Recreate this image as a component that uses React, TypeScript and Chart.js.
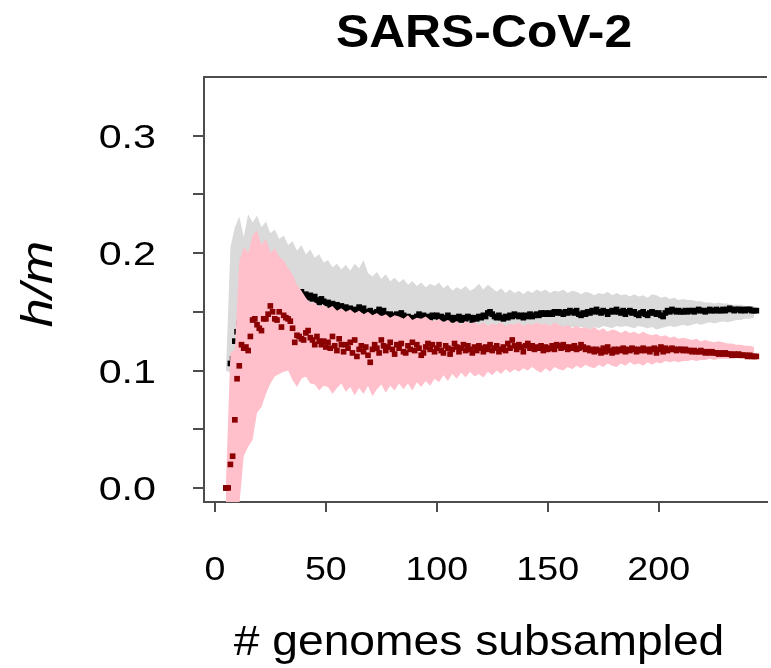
import React, { useEffect, useRef } from "react";
import { Chart, registerables } from "chart.js";

Chart.register(...registerables);

// ---------- data ----------
const titleText = "SARS-CoV-2";
const xAxisTitle = "# genomes subsampled";
const yAxisTitle = "h/m";

// subsample sizes of the mean points start at 5, one point per genome count
const pointStart = 5;
// mean h/m, human-adapted subsample (dark red)
const meanRed = [
  0.000, 0.000, 0.020, 0.027, 0.058, 0.093, 0.104, 0.122, 0.119, 0.120,
  0.117, 0.129, 0.143, 0.144, 0.139, 0.136, 0.134, 0.144, 0.144, 0.148,
  0.155, 0.150, 0.144, 0.143, 0.150, 0.137, 0.147, 0.145, 0.144, 0.142,
  0.136, 0.124, 0.130, 0.129, 0.127, 0.126, 0.132, 0.134, 0.128, 0.126,
  0.122, 0.129, 0.125, 0.122, 0.125, 0.120, 0.124, 0.119, 0.129, 0.121,
  0.117, 0.127, 0.122, 0.116, 0.122, 0.119, 0.124, 0.115, 0.126, 0.112,
  0.118, 0.121, 0.116, 0.120, 0.113, 0.107, 0.118, 0.122, 0.119, 0.115,
  0.126, 0.121, 0.117, 0.120, 0.124, 0.118, 0.114, 0.122, 0.119, 0.123,
  0.116, 0.115, 0.121, 0.118, 0.124, 0.117, 0.122, 0.119, 0.113, 0.115,
  0.120, 0.123, 0.118, 0.122, 0.116, 0.119, 0.122, 0.117, 0.115, 0.121,
  0.119, 0.114, 0.118, 0.123, 0.120, 0.116, 0.119, 0.122, 0.117, 0.121,
  0.118, 0.115, 0.120, 0.117, 0.121, 0.119, 0.116, 0.120, 0.118, 0.122,
  0.117, 0.119, 0.121, 0.116, 0.118, 0.120, 0.117, 0.123, 0.119, 0.126,
  0.121, 0.118, 0.122, 0.120, 0.116, 0.121, 0.123, 0.119, 0.121, 0.118,
  0.120, 0.119, 0.121, 0.117, 0.120, 0.118, 0.119, 0.121, 0.118, 0.122,
  0.121, 0.119, 0.122, 0.120, 0.118, 0.120, 0.119, 0.121, 0.118, 0.119,
  0.122, 0.120, 0.118, 0.119, 0.117, 0.118, 0.116, 0.118, 0.117, 0.115,
  0.119, 0.116, 0.120, 0.117, 0.115, 0.118, 0.116, 0.118, 0.117, 0.119,
  0.116, 0.118, 0.117, 0.119, 0.118, 0.116, 0.118, 0.117, 0.119, 0.117,
  0.118, 0.116, 0.118, 0.119, 0.115, 0.118, 0.120, 0.116, 0.119, 0.117,
  0.118, 0.119, 0.118, 0.117, 0.118, 0.118, 0.117, 0.118, 0.117, 0.117,
  0.116, 0.117, 0.116, 0.116, 0.117, 0.116, 0.115, 0.116, 0.115, 0.116,
  0.115, 0.115, 0.114, 0.115, 0.114, 0.115, 0.114, 0.114, 0.113, 0.114,
  0.113, 0.114, 0.113, 0.113, 0.113, 0.112, 0.113, 0.112, 0.112, 0.112,
];
// mean h/m, all genomes (black)
const meanBlack = [
  0.000, 0.000, 0.106, 0.110, 0.125, 0.133, 0.140, 0.146, 0.150, 0.152,
  0.156, 0.160, 0.165, 0.168, 0.166, 0.170, 0.172, 0.169, 0.173, 0.171,
  0.174, 0.170, 0.172, 0.168, 0.171, 0.169, 0.167, 0.170, 0.166, 0.168,
  0.165, 0.167, 0.164, 0.166, 0.167, 0.163, 0.165, 0.162, 0.164, 0.161,
  0.163, 0.160, 0.158, 0.161, 0.159, 0.157, 0.158, 0.155, 0.157, 0.154,
  0.156, 0.153, 0.155, 0.152, 0.154, 0.151, 0.153, 0.150, 0.152, 0.149,
  0.154, 0.151, 0.153, 0.150, 0.148, 0.151, 0.149, 0.147, 0.150, 0.152,
  0.149, 0.151, 0.148, 0.146, 0.148, 0.147, 0.145, 0.148, 0.146, 0.149,
  0.147, 0.145, 0.146, 0.144, 0.145, 0.143, 0.146, 0.148, 0.146, 0.147,
  0.144, 0.146, 0.145, 0.147, 0.146, 0.147, 0.145, 0.146, 0.144, 0.145,
  0.147, 0.145, 0.143, 0.145, 0.144, 0.146, 0.143, 0.145, 0.144, 0.146,
  0.145, 0.143, 0.145, 0.144, 0.146, 0.145, 0.147, 0.146, 0.149, 0.150,
  0.148, 0.146, 0.145, 0.147, 0.145, 0.144, 0.146, 0.145, 0.147, 0.146,
  0.148, 0.147, 0.146, 0.147, 0.145, 0.147, 0.146, 0.148, 0.146, 0.147,
  0.148, 0.147, 0.149, 0.148, 0.149, 0.148, 0.149, 0.148, 0.150, 0.149,
  0.150, 0.149, 0.148, 0.150, 0.149, 0.151, 0.150, 0.149, 0.151, 0.148,
  0.147, 0.149, 0.148, 0.150, 0.149, 0.151, 0.150, 0.152, 0.150, 0.149,
  0.151, 0.150, 0.148, 0.150, 0.151, 0.150, 0.152, 0.150, 0.149, 0.151,
  0.148, 0.150, 0.151, 0.149, 0.150, 0.148, 0.147, 0.149, 0.150, 0.148,
  0.147, 0.149, 0.150, 0.149, 0.148, 0.149, 0.147, 0.146, 0.149, 0.151,
  0.150, 0.152, 0.151, 0.150, 0.151, 0.150, 0.150, 0.151, 0.150, 0.151,
  0.151, 0.150, 0.151, 0.152, 0.151, 0.151, 0.150, 0.151, 0.152, 0.151,
  0.151, 0.152, 0.151, 0.151, 0.152, 0.151, 0.152, 0.153, 0.152, 0.151,
  0.152, 0.152, 0.151, 0.152, 0.151, 0.152, 0.152, 0.151, 0.151, 0.151,
];

// spread bands, sampled every 2 genomes starting at 5
const bandStart = 5;
const bandStep = 2;
const grayUpper = [
  0.100, 0.205, 0.222, 0.231, 0.214, 0.233, 0.226, 0.232, 0.222, 0.227,
  0.217, 0.220, 0.212, 0.215, 0.207, 0.210, 0.202, 0.207, 0.199, 0.203,
  0.196, 0.199, 0.192, 0.194, 0.188, 0.191, 0.186, 0.190, 0.185, 0.191,
  0.187, 0.194, 0.183, 0.180, 0.184, 0.178, 0.182, 0.176, 0.179, 0.175,
  0.178, 0.173, 0.176, 0.172, 0.175, 0.171, 0.174, 0.172, 0.175, 0.170,
  0.173, 0.168, 0.171, 0.169, 0.172, 0.168, 0.170, 0.174, 0.169, 0.173,
  0.170, 0.167, 0.170, 0.166, 0.169, 0.166, 0.168, 0.165, 0.168, 0.166,
  0.169, 0.167, 0.169, 0.166, 0.168, 0.167, 0.169, 0.166, 0.168, 0.167,
  0.165, 0.167, 0.166, 0.164, 0.166, 0.165, 0.167, 0.164, 0.166, 0.164,
  0.165, 0.163, 0.165, 0.163, 0.164, 0.162, 0.165, 0.164, 0.162, 0.163,
  0.161, 0.162, 0.160, 0.161, 0.160, 0.160, 0.159, 0.159, 0.158, 0.158,
  0.157, 0.158, 0.157, 0.157, 0.156, 0.156, 0.156, 0.155, 0.155, 0.155,
];
const grayLower = [
  0.100, 0.098, 0.097, 0.100, 0.104, 0.106, 0.110, 0.112, 0.115, 0.116,
  0.118, 0.120, 0.121, 0.120, 0.122, 0.123, 0.122, 0.124, 0.123, 0.125,
  0.124, 0.125, 0.126, 0.125, 0.126, 0.127, 0.126, 0.127, 0.128, 0.127,
  0.128, 0.127, 0.128, 0.129, 0.128, 0.129, 0.130, 0.129, 0.130, 0.129,
  0.130, 0.131, 0.130, 0.131, 0.130, 0.131, 0.132, 0.131, 0.132, 0.131,
  0.132, 0.131, 0.132, 0.133, 0.132, 0.133, 0.132, 0.133, 0.134, 0.133,
  0.133, 0.134, 0.133, 0.134, 0.135, 0.134, 0.133, 0.134, 0.135, 0.134,
  0.135, 0.134, 0.136, 0.135, 0.136, 0.137, 0.136, 0.135, 0.137, 0.136,
  0.137, 0.136, 0.135, 0.137, 0.136, 0.138, 0.137, 0.136, 0.138, 0.137,
  0.138, 0.137, 0.136, 0.138, 0.137, 0.136, 0.137, 0.135, 0.136, 0.137,
  0.138, 0.137, 0.138, 0.139, 0.138, 0.139, 0.140, 0.139, 0.140, 0.141,
  0.140, 0.141, 0.142, 0.141, 0.142, 0.143, 0.143, 0.144, 0.144, 0.145,
];
const pinkUpper = [
  0.005, 0.115, 0.118, 0.193, 0.205, 0.200, 0.215, 0.219, 0.207, 0.212,
  0.200, 0.204, 0.197, 0.194, 0.187, 0.182, 0.173, 0.168, 0.162, 0.157,
  0.158, 0.154, 0.156, 0.153, 0.155, 0.151, 0.153, 0.150, 0.152, 0.149,
  0.151, 0.148, 0.150, 0.147, 0.149, 0.146, 0.148, 0.145, 0.147, 0.146,
  0.144, 0.147, 0.143, 0.145, 0.144, 0.146, 0.143, 0.142, 0.144, 0.141,
  0.143, 0.140, 0.142, 0.139, 0.142, 0.140, 0.141, 0.139, 0.141, 0.138,
  0.140, 0.139, 0.141, 0.138, 0.140, 0.139, 0.141, 0.138, 0.140, 0.139,
  0.141, 0.139, 0.140, 0.138, 0.141, 0.139, 0.137, 0.139, 0.136, 0.138,
  0.136, 0.137, 0.135, 0.137, 0.134, 0.136, 0.133, 0.135, 0.134, 0.132,
  0.134, 0.132, 0.133, 0.131, 0.133, 0.131, 0.130, 0.131, 0.129, 0.130,
  0.128, 0.129, 0.127, 0.128, 0.127, 0.126, 0.127, 0.125, 0.126, 0.125,
  0.124, 0.125, 0.124, 0.123, 0.123, 0.122, 0.122, 0.121, 0.121, 0.120,
];
const pinkLower = [
  -0.030, -0.030, -0.030, -0.015, 0.027, 0.035, 0.041, 0.064, 0.069, 0.080,
  0.089, 0.095, 0.097, 0.099, 0.100, 0.092, 0.086, 0.093, 0.095, 0.089,
  0.088, 0.083, 0.087, 0.086, 0.080, 0.085, 0.089, 0.082, 0.086, 0.079,
  0.085, 0.080, 0.087, 0.078, 0.084, 0.088, 0.081, 0.087, 0.083, 0.089,
  0.084, 0.089, 0.083, 0.090, 0.086, 0.091, 0.087, 0.093, 0.090, 0.096,
  0.091, 0.097, 0.093, 0.098, 0.094, 0.099, 0.095, 0.097, 0.094, 0.099,
  0.096, 0.100, 0.097, 0.101, 0.098, 0.101, 0.099, 0.102, 0.100, 0.103,
  0.100, 0.098, 0.102, 0.099, 0.103, 0.101, 0.100, 0.103, 0.101, 0.104,
  0.102, 0.105, 0.103, 0.102, 0.105, 0.103, 0.106, 0.104, 0.103, 0.106,
  0.104, 0.107, 0.105, 0.106, 0.104, 0.107, 0.105, 0.107, 0.106, 0.108,
  0.107, 0.108, 0.107, 0.108, 0.108, 0.109, 0.108, 0.109, 0.109, 0.110,
  0.109, 0.110, 0.110, 0.110, 0.110, 0.111, 0.110, 0.111, 0.111, 0.111,
];

const xTicks = [0, 50, 100, 150, 200];
const yTicks = [0, 0.05, 0.1, 0.15, 0.2, 0.25, 0.3];
const yTickLabels = ["0.0", "0.1", "0.2", "0.3"];
const yLabelValues = [0, 0.1, 0.2, 0.3];

// ---------- styling ----------
const AXIS = "#4d4d4d";
const FONT = '"Liberation Sans", Arial, Helvetica, sans-serif';

const toPoints = (vals: number[], start: number, step: number) =>
  vals.map((v, i) => ({ x: start + i * step, y: v }));

function drawText(
  ctx: CanvasRenderingContext2D,
  text: string,
  x: number,
  y: number,
  font: string,
  align: CanvasTextAlign,
  sx: number,
  rotate = 0
) {
  ctx.save();
  ctx.font = font;
  ctx.textAlign = align;
  ctx.textBaseline = "alphabetic";
  ctx.fillStyle = "#000";
  ctx.translate(x, y);
  if (rotate) ctx.rotate(rotate);
  ctx.scale(sx, 1);
  ctx.fillText(text, 0, 0);
  ctx.restore();
}

const textPlugin = {
  id: "textPlugin",
  afterDraw(chart: any) {
    const { ctx, chartArea } = chart;
    const xs = chart.scales.x;
    const ys = chart.scales.y;
    ctx.save();
    // top frame line
    ctx.strokeStyle = AXIS;
    ctx.lineWidth = 2;
    ctx.beginPath();
    ctx.moveTo(chartArea.left - 1, chartArea.top);
    ctx.lineTo(chartArea.right, chartArea.top);
    ctx.stroke();
    ctx.restore();

    // title
    drawText(ctx, titleText, 484, 47, `bold 47px ${FONT}`, "center", 1.06);
    // y tick labels
    yLabelValues.forEach((v, i) => {
      drawText(ctx, yTickLabels[i], 156, ys.getPixelForValue(v) + 12, `33px ${FONT}`, "right", 1.25);
    });
    // x tick labels
    xTicks.forEach((v) => {
      drawText(ctx, String(v), xs.getPixelForValue(v), 580, `33px ${FONT}`, "center", 1.14);
    });
    // x title
    drawText(ctx, xAxisTitle, 479, 655, `42px ${FONT}`, "center", 1.1);
    // y title (rotated)
    drawText(ctx, yAxisTitle, 52, 284, `italic 45px ${FONT}`, "center", 1.15, -Math.PI / 2);
  },
};

export default function App() {
  const ref = useRef<HTMLCanvasElement>(null);
  useEffect(() => {
    const canvas = ref.current;
    if (!canvas) return;
    const chart = new Chart(canvas, {
      type: "line",
      data: {
        datasets: [
          {
            label: "mean (dark red)",
            data: toPoints(meanRed, pointStart, 1),
            showLine: false,
            pointStyle: "rect",
            pointRadius: 4,
            pointBorderWidth: 0,
            pointBackgroundColor: "#8b0000",
            borderColor: "#8b0000",
            backgroundColor: "#8b0000",
          },
          {
            label: "pink upper",
            data: toPoints(pinkUpper, bandStart, bandStep),
            fill: "+1",
            backgroundColor: "#ffc0cb",
            borderColor: "rgba(0,0,0,0)",
            borderWidth: 0,
            pointRadius: 0,
            tension: 0,
          },
          {
            label: "pink lower",
            data: toPoints(pinkLower, bandStart, bandStep),
            fill: false,
            borderColor: "rgba(0,0,0,0)",
            borderWidth: 0,
            pointRadius: 0,
          },
          {
            label: "mean (black)",
            data: toPoints(meanBlack, pointStart, 1),
            showLine: false,
            pointStyle: "rect",
            pointRadius: 4,
            pointBorderWidth: 0,
            pointBackgroundColor: "#000000",
            borderColor: "#000000",
            backgroundColor: "#000000",
          },
          {
            label: "gray upper",
            data: toPoints(grayUpper, bandStart, bandStep),
            fill: "+1",
            backgroundColor: "#dadada",
            borderColor: "rgba(0,0,0,0)",
            borderWidth: 0,
            pointRadius: 0,
            tension: 0,
          },
          {
            label: "gray lower",
            data: toPoints(grayLower, bandStart, bandStep),
            fill: false,
            borderColor: "rgba(0,0,0,0)",
            borderWidth: 0,
            pointRadius: 0,
          },
        ],
      },
      options: {
        responsive: false,
        animation: false,
        events: [],
        layout: { padding: { left: 193, top: 77, right: 0, bottom: 156 } },
        plugins: {
          legend: { display: false },
          tooltip: { enabled: false },
          title: { display: false },
        },
        scales: {
          x: {
            type: "linear",
            min: -4.9,
            max: 248.8,
            afterBuildTicks: (s: any) => {
              s.ticks = xTicks.map((v) => ({ value: v }));
            },
            ticks: { display: false },
            grid: { drawOnChartArea: false, drawTicks: true, tickLength: 10, color: AXIS, lineWidth: 2 },
            border: { display: true, color: AXIS, width: 2 },
          },
          y: {
            type: "linear",
            min: -0.012,
            max: 0.35,
            afterBuildTicks: (s: any) => {
              s.ticks = yTicks.map((v) => ({ value: v }));
            },
            ticks: { display: false },
            grid: { drawOnChartArea: false, drawTicks: true, tickLength: 11, color: AXIS, lineWidth: 2 },
            border: { display: true, color: AXIS, width: 2 },
          },
        },
      },
      plugins: [textPlugin],
    } as any);
    return () => chart.destroy();
  }, []);
  return (
    <div style={{ position: "absolute", left: 0, top: 0, width: 771, height: 668, background: "#fff" }}>
      <canvas ref={ref} width={771} height={668} style={{ display: "block", width: 771, height: 668 }} />
    </div>
  );
}
